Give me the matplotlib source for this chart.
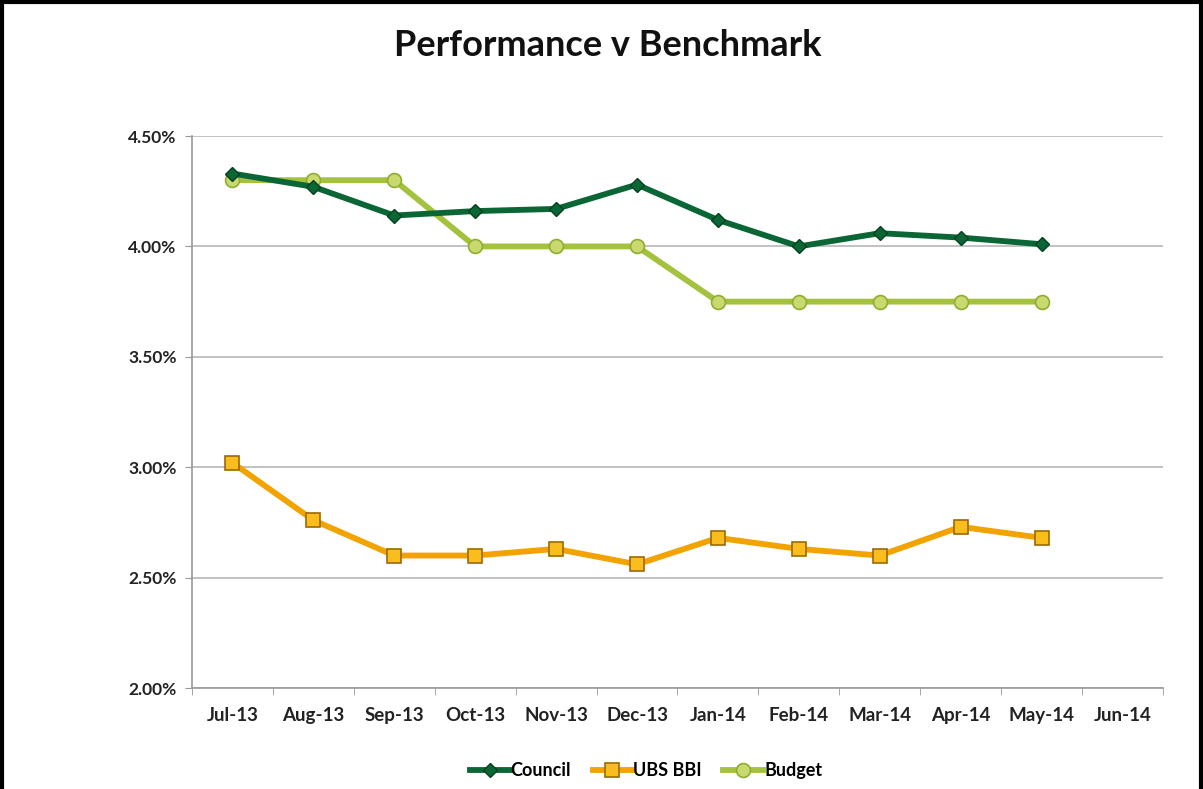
import numpy as np
import matplotlib
matplotlib.use("Agg")
import matplotlib.pyplot as plt
from matplotlib.lines import Line2D
from matplotlib.ticker import FuncFormatter

months = ["Jul-13", "Aug-13", "Sep-13", "Oct-13", "Nov-13", "Dec-13",
          "Jan-14", "Feb-14", "Mar-14", "Apr-14", "May-14", "Jun-14"]
council = [4.33, 4.27, 4.14, 4.16, 4.17, 4.28, 4.12, 4.00, 4.06, 4.04, 4.01]
ubs_bbi = [3.02, 2.76, 2.60, 2.60, 2.63, 2.56, 2.68, 2.63, 2.60, 2.73, 2.68]
budget = [4.30, 4.30, 4.30, 4.00, 4.00, 4.00, 3.75, 3.75, 3.75, 3.75, 3.75]
y_ticks = [2.0, 2.5, 3.0, 3.5, 4.0, 4.5]

plt.rcParams['font.family'] = ['Lato', 'DejaVu Sans']

fig = plt.figure(figsize=(12.03, 7.89), dpi=100)
ax = fig.add_axes([0.1596, 0.128, 0.9667 - 0.1596, 0.8276 - 0.128])

x = np.arange(len(months))

ax.plot(x[:len(council)], council, color='#0B6636', lw=4.2, marker='D',
        markersize=7, markerfacecolor='#0B6636', markeredgecolor='#06401f',
        label='Council', zorder=4)
ax.plot(x[:len(ubs_bbi)], ubs_bbi, color='#F2A300', lw=4.2, marker='s',
        markersize=10, markerfacecolor='#F9BE1E', markeredgecolor='#9C6A00',
        markeredgewidth=1.2, label='UBS BBI', zorder=3)
ax.plot(x[:len(budget)], budget, color='#A4C23E', lw=4.2, marker='o',
        markersize=10, markerfacecolor='#C9D970', markeredgecolor='#8FAE30',
        markeredgewidth=1.2, label='Budget', zorder=3)

ax.set_xlim(-0.5, len(months) - 0.5)
ax.set_ylim(2.0, 4.5)
ax.set_yticks(y_ticks)
ax.yaxis.set_major_formatter(FuncFormatter(lambda v, p: f"{v:.2f}%"))
ax.set_xticks(x)
ax.set_xticklabels(months)
ax.set_xticks(np.arange(-0.5, len(months)), minor=True)
ax.tick_params(axis='x', which='major', length=0, pad=14)
ax.tick_params(axis='x', which='minor', length=5, color='#999999')
ax.tick_params(axis='y', length=5, color='#999999', pad=6)
for lab in ax.get_xticklabels():
    lab.set_fontsize(13.5)
    lab.set_fontweight('bold')
    lab.set_color('#222222')
for lab in ax.get_yticklabels():
    lab.set_fontsize(12.5)
    lab.set_fontweight('bold')
    lab.set_color('#222222')

ax.grid(axis='y', color='#b8b8b8', lw=1.2)
ax.set_axisbelow(True)
for s in ['top', 'right']:
    ax.spines[s].set_visible(False)
for s in ['left', 'bottom']:
    ax.spines[s].set_color('#999999')
    ax.spines[s].set_linewidth(1.2)

fig.text(0.505, 0.942, "Performance v Benchmark", ha='center', va='center',
         fontsize=26, fontweight='bold', color='#111111')

fig.legend(loc='center', bbox_to_anchor=(0.537, 0.023), ncol=3, frameon=False,
           handlelength=2.2, columnspacing=1.2, handletextpad=0.05,
           prop={'weight': 'bold', 'size': 13})

# black frame on top, left and right
for xs, ys in [([0.002, 0.998], [0.997, 0.997]), ([0.002, 0.002], [0.0, 0.997]),
               ([0.998, 0.998], [0.0, 0.997])]:
    fig.add_artist(Line2D(xs, ys, color='black', lw=3, transform=fig.transFigure))

fig.savefig("out.png", dpi=100)
